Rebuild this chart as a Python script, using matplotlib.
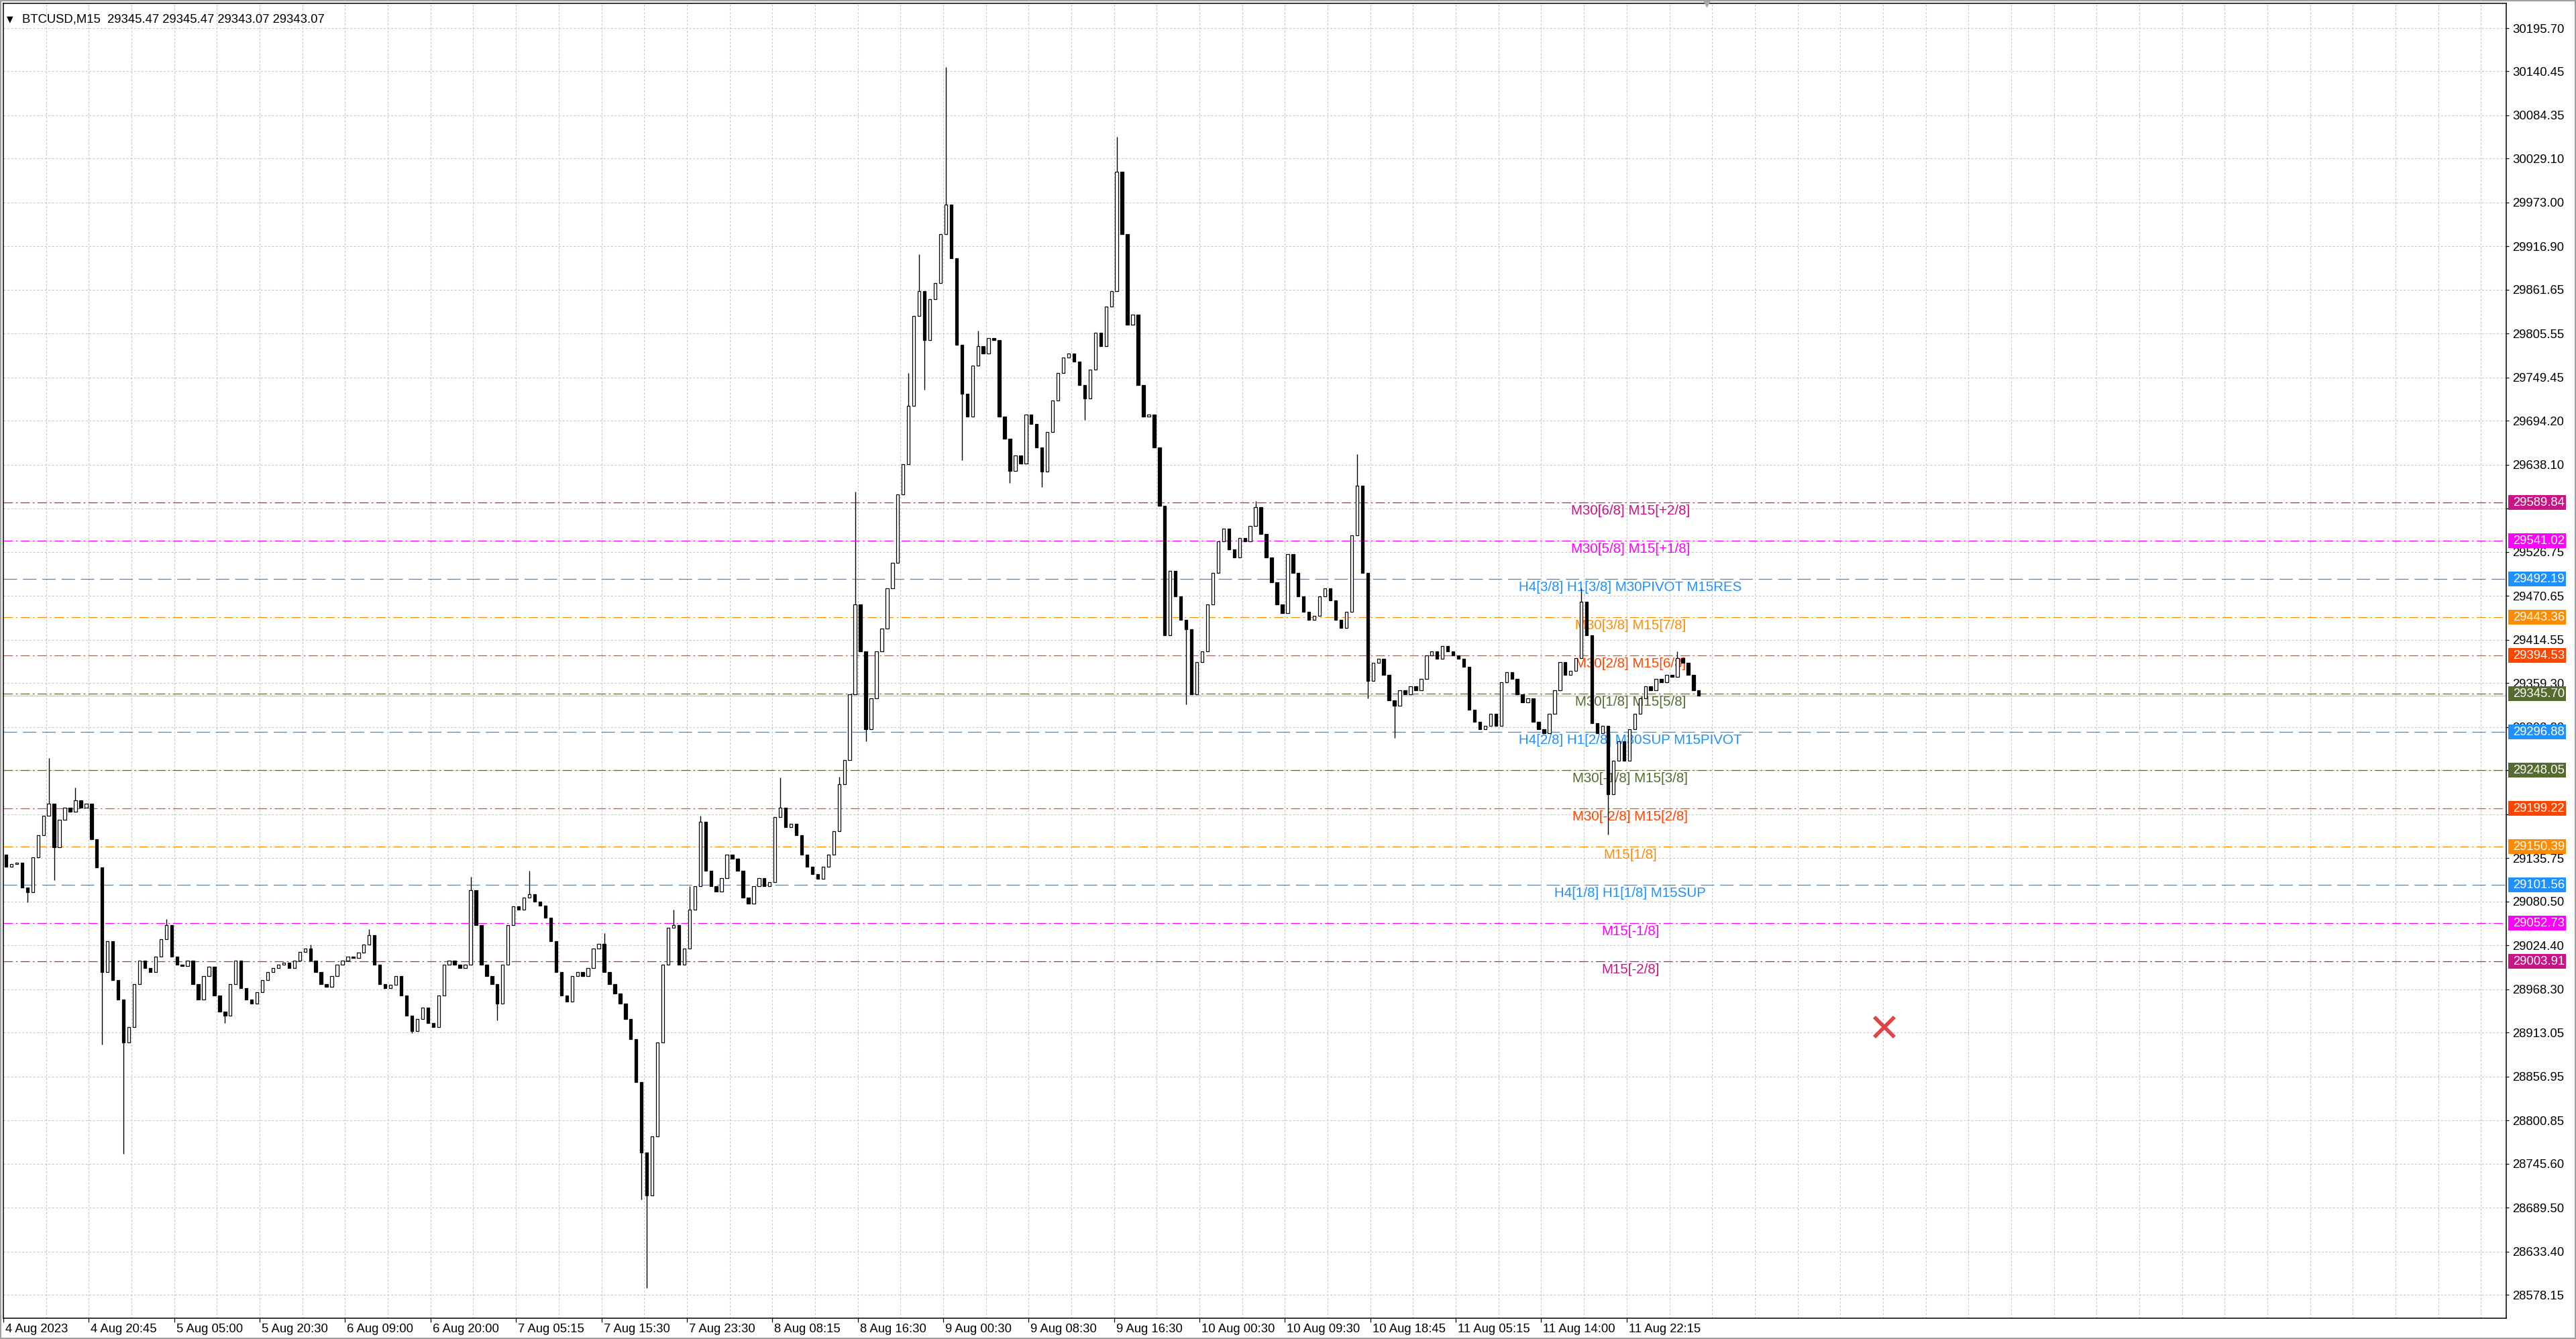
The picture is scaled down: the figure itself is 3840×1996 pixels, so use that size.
import matplotlib.pyplot as plt
from matplotlib.patches import Rectangle
from matplotlib import transforms

plt.rcParams['font.family'] = ['Liberation Sans', 'DejaVu Sans']

# BTCUSD M15, closes of 2-bar candles
closes = [
    29125, 29128, 29130, 29098, 29092, 29137, 29165, 29190, 29205, 29150,
    29185, 29200, 29195, 29210, 29200, 29205, 29160, 29124, 28990, 29030,
    28980, 28955, 28900, 28920, 28975, 29005, 28995, 28990, 29010, 29032,
    29050, 29010, 29000, 28998, 29005, 28975, 28955, 28985, 28997, 28960,
    28940, 28935, 28975, 29005, 28970, 28955, 28950, 28965, 28980, 28990,
    28995, 29000, 29002, 28995, 29005, 29016, 29020, 29005, 28990, 28975,
    28971, 28985, 29000, 29005, 29010, 29008, 29015, 29025, 29037, 29000,
    28975, 28970, 28974, 28985, 28960, 28935, 28915, 28930, 28945, 28925,
    28920, 28960, 29000, 29005, 29000, 28995, 29000, 29095, 29050, 29000,
    28985, 28975, 28950, 29000, 29050, 29074, 29070, 29085, 29090, 29080,
    29075, 29060, 29030, 28990, 28960, 28953, 28985, 28990, 28985, 28995,
    29020, 29026, 28990, 28975, 28963, 28950, 28930, 28905, 28850, 28760,
    28705, 28780, 28900, 29000, 29047, 29050, 29000, 29020, 29070, 29100,
    29182, 29120, 29100, 29093, 29110, 29140, 29135, 29120, 29085, 29078,
    29100, 29110, 29100, 29105, 29188, 29200, 29175, 29180, 29165, 29140,
    29125, 29115, 29109, 29125, 29140, 29170, 29230, 29261, 29345, 29460,
    29400, 29300, 29340, 29400, 29429, 29480, 29513, 29600, 29639, 29713,
    29828, 29860, 29797, 29850, 29870, 29933, 29970, 29902, 29791, 29729,
    29700, 29765, 29790, 29780, 29800, 29797, 29700, 29671, 29630, 29650,
    29640, 29702, 29690, 29660, 29629, 29680, 29720, 29755, 29775, 29780,
    29770, 29740, 29723, 29760, 29807, 29790, 29840, 29860, 30012, 29933,
    29817, 29830, 29740, 29700, 29702, 29660, 29586, 29420, 29503, 29470,
    29440, 29428, 29345, 29386, 29400, 29460, 29500, 29540, 29557, 29530,
    29520, 29545, 29540, 29560, 29584, 29550, 29520, 29488, 29460, 29449,
    29524, 29500, 29470, 29450, 29440, 29445, 29470, 29480, 29465, 29440,
    29430, 29450, 29548, 29611, 29500, 29362, 29385, 29390, 29370, 29337,
    29330, 29350, 29345, 29355, 29350, 29365, 29395, 29400, 29390, 29407,
    29400, 29395, 29390, 29380, 29325, 29310, 29300, 29305, 29320, 29305,
    29360, 29373, 29365, 29345, 29335, 29340, 29310, 29300, 29295, 29320,
    29350, 29386, 29370, 29375, 29391, 29463, 29420, 29308, 29295, 29305,
    29217, 29260, 29285, 29260, 29300, 29320, 29340, 29355, 29350, 29365,
    29360, 29370, 29367, 29391, 29385, 29370, 29350, 29343.07,
]
first_open = 29140

# wick extremes that stick out of the bodies
wick_highs = {8: 29264, 13: 29226, 17: 29135, 30: 29058, 57: 29025, 68: 29045,
              87: 29112, 98: 29120, 112: 29040, 125: 29070, 128: 29100,
              130: 29190, 145: 29239, 156: 29240, 159: 29604, 169: 29755,
              171: 29907, 176: 30146, 182: 29809, 208: 30057, 234: 29592,
              253: 29652, 295: 29480, 313: 29400}
wick_lows = {4: 29079, 9: 29108, 18: 28898, 22: 28758, 41: 28925, 76: 28912,
             92: 28929, 119: 28700, 120: 28587, 161: 29285, 172: 29734,
             179: 29644, 188: 29615, 194: 29610, 202: 29695, 221: 29332,
             255: 29340, 260: 29289, 300: 29166}

time_labels = ['4 Aug 2023', '4 Aug 20:45', '5 Aug 05:00', '5 Aug 20:30',
               '6 Aug 09:00', '6 Aug 20:00', '7 Aug 05:15', '7 Aug 15:30',
               '7 Aug 23:30', '8 Aug 08:15', '8 Aug 16:30', '9 Aug 00:30',
               '9 Aug 08:30', '9 Aug 16:30', '10 Aug 00:30', '10 Aug 09:30',
               '10 Aug 18:45', '11 Aug 05:15', '11 Aug 14:00', '11 Aug 22:15']
label_step = 16

levels = [29589.84, 29541.02, 29492.19, 29443.36, 29394.53, 29345.70, 29296.88,
          29248.05, 29199.22, 29150.39, 29101.56, 29052.73, 29003.91]
level_colors = ['#C71585', '#FF00FF', '#1E90FF', '#FF8C00', '#FF4500', '#556B2F',
                '#1E90FF', '#556B2F', '#FF4500', '#FF8C00', '#1E90FF', '#FF00FF',
                '#C71585']
level_texts = ['M30[6/8] M15[+2/8]', 'M30[5/8] M15[+1/8]',
               'H4[3/8] H1[3/8] M30PIVOT M15RES', 'M30[3/8] M15[7/8]',
               'M30[2/8] M15[6/8]', 'M30[1/8] M15[5/8]',
               'H4[2/8] H1[2/8] M30SUP M15PIVOT', 'M30[-1/8] M15[3/8]',
               'M30[-2/8] M15[2/8]', 'M15[1/8]', 'H4[1/8] H1[1/8] M15SUP',
               'M15[-1/8]', 'M15[-2/8]']

price_ticks = [30195.70, 30140.45, 30084.35, 30029.10, 29973.00, 29916.90,
               29861.65, 29805.55, 29749.45, 29694.20, 29638.10, 29582.00,
               29526.75, 29470.65, 29414.55, 29359.30, 29303.20, 29247.95,
               29191.85, 29135.75, 29080.50, 29024.40, 28968.30, 28913.05,
               28856.95, 28800.85, 28745.60, 28689.50, 28633.40, 28578.15]
hidden_ticks = [29582.00, 29247.95, 29191.85]
bid = 29343.07
title = 'BTCUSD,M15  29345.47 29345.47 29343.07 29343.07'

W, H = 3840, 1996
fig = plt.figure(figsize=(W / 100, H / 100), dpi=100, facecolor='white')
ax = fig.add_axes([5 / W, 31 / H, 3731 / W, 1960 / H])
ax.set_facecolor('white')

n = len(closes)
idx = list(range(n))
opens = [first_open] + closes[:-1]
highs, lows = [], []
for i in idx:
    hi = max(opens[i], closes[i])
    lo = min(opens[i], closes[i])
    highs.append(max(hi, wick_highs.get(i, hi)))
    lows.append(min(lo, wick_lows.get(i, lo)))

# grid
for p in price_ticks:
    ax.axhline(p, color='#c4c4c4', lw=0.8, ls=(0, (2.5, 2.5)), zorder=0.5)
for k in range(1, 60):
    ax.axvline(8 * k - 0.5, color='#c4c4c4', lw=0.8, ls=(0, (2.5, 2.5)), zorder=0.5)

# levels
dashdot = (0, (11, 3.6, 2, 3.6))
longdash = (0, (16, 7))
for lv, col, txt in zip(levels, level_colors, level_texts):
    ls = longdash if col == '#1E90FF' else dashdot
    ax.axhline(lv, color=col, lw=0.9, ls=ls, zorder=1.5)
    ax.text(304.2, lv - 2.5, txt, color=col, fontsize=14.8, ha='center',
            va='top', zorder=2)
ax.axhline(bid, color='#c0c0c0', lw=0.9, zorder=1.4)

# candles
ax.vlines(idx, lows, highs, color='black', lw=1.0, zorder=3)
bottoms = [min(o, c) for o, c in zip(opens, closes)]
heights = [max(abs(c - o), 0.9) for o, c in zip(opens, closes)]
faces = ['white' if c >= o else 'black' for o, c in zip(opens, closes)]
ax.bar(idx, heights, bottom=bottoms, width=0.55, color=faces, edgecolor='black',
       linewidth=0.9, zorder=4)

ax.set_xlim(-0.5, -0.5 + 3731 / 7.96)
ax.set_ylim(28548.2, 30227.4)

# y axis on the right
ax.yaxis.tick_right()
ax.set_yticks(price_ticks)
ax.set_yticklabels(['' if p in hidden_ticks else '%.2f' % p for p in price_ticks])
ax.tick_params(axis='y', length=3, width=0.9, pad=3.5, labelsize=13.3,
               direction='out')

# x axis ticks and labels
xt = [label_step * k - 0.5 for k in range(len(time_labels))]
ax.set_xticks(xt)
ax.set_xticklabels([])
ax.tick_params(axis='x', length=4, width=0.9, direction='out')
blend = transforms.blended_transform_factory(ax.transData, ax.transAxes)
lab_tr = transforms.offset_copy(blend, fig=fig, x=3, y=-8, units='dots')
for t, lab in zip(xt, time_labels):
    ax.text(t, 0, lab, transform=lab_tr, ha='left', va='top', fontsize=13.3,
            clip_on=False)

for s in ax.spines.values():
    s.set_color('black')
    s.set_linewidth(1.1)

# price boxes on the axis
ytr = transforms.blended_transform_factory(ax.transAxes, ax.transData)
box_h = 22 / 1.1672
for lv, col in zip(levels, level_colors):
    ax.add_patch(Rectangle((1.0008, lv - box_h / 2), 86 / 3731, box_h,
                           transform=ytr, facecolor=col, edgecolor='none',
                           clip_on=False, zorder=10))
    ax.text(1 + 10 / 3731, lv, '%.2f' % lv, transform=ytr, color='white',
            fontsize=13.3, va='center', ha='left', zorder=11, clip_on=False)

# chart shift marker and the red cross
ax.plot([318.5], [30227.4], marker='v', color='#a8a8a8', ms=7, clip_on=False,
        zorder=5)
ax.plot([351.8], [28920], marker='x', color='#e04545', ms=22, mew=4, zorder=6)

fig.text(10 / W, 1 - 29 / H, '\u25bc', fontsize=9, va='center',
         family=['DejaVu Sans'])
fig.text(33 / W, 1 - 29 / H, title, fontsize=13.3, va='center')
fig.patches.append(Rectangle((0, 0), 1, 1, transform=fig.transFigure, fill=False,
                             edgecolor='#a0a0a0', lw=3))

fig.savefig('out.png', dpi=100)
